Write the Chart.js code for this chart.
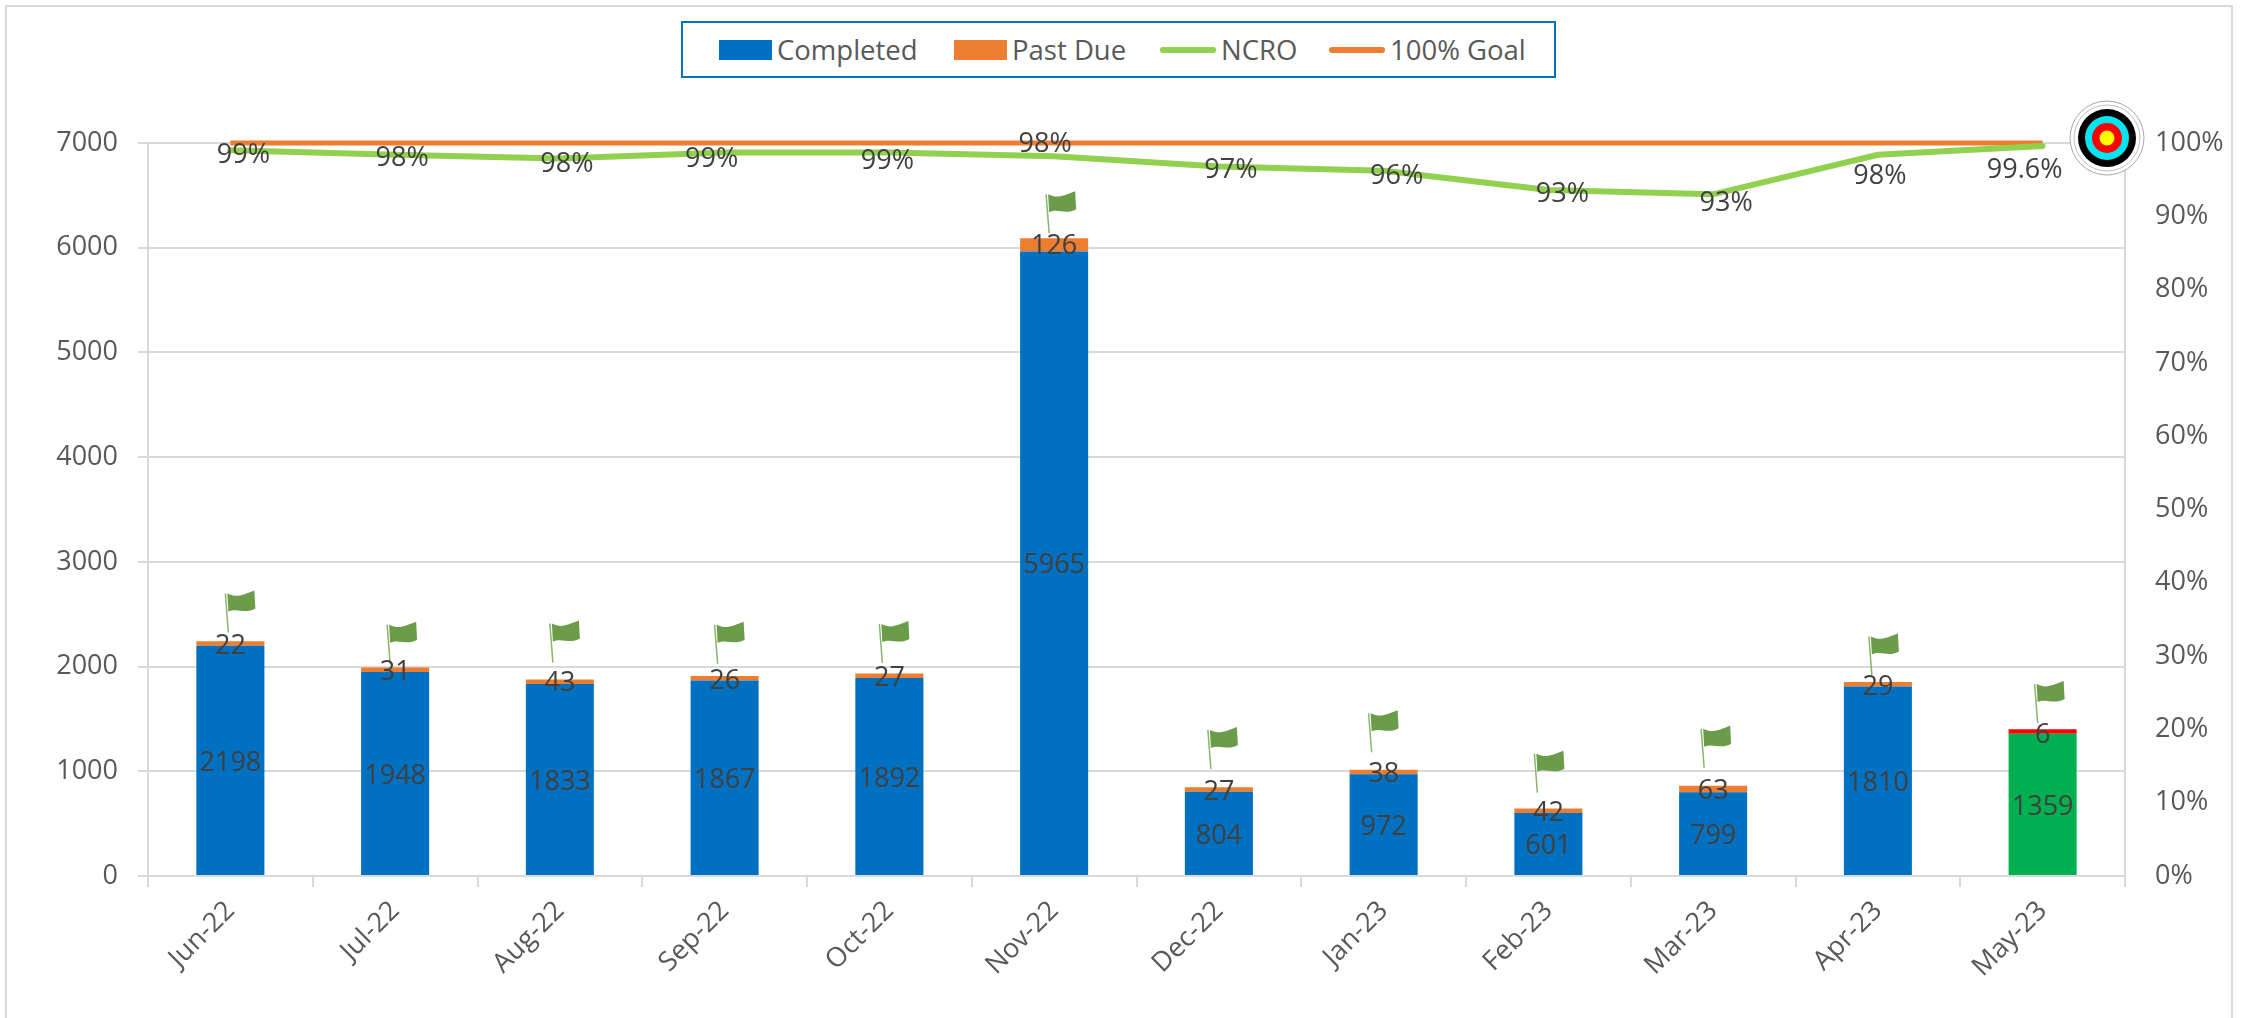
<!DOCTYPE html>
<html>
<head>
<meta charset="utf-8">
<title>NCRO</title>
<script src="https://cdn.jsdelivr.net/npm/chart.js@4"></script>
<style>
    html, body { margin: 0; padding: 0; background: #fff; overflow: hidden; }
    #wrap { position: relative; width: 2252px; height: 1018px; overflow: hidden; font-family: "Open Sans", sans-serif; }
    #frame { position: absolute; left: 5px; top: 5px; width: 2224px; height: 1100px; border: 2px solid #d9d9d9; }
    #legend {
        position: absolute; left: 681px; top: 21px; width: 871px; height: 53px;
        border: 2px solid #0070c0; background: #fff; color: #595959; font-size: 27.5px;
    }
    #legend .item { position: absolute; top: 0; height: 53px; display: flex; align-items: center; white-space: nowrap; }
    #legend .swatch { display: block; margin-right: 5px; }
    canvas { position: absolute; left: 0; top: 0; }
</style>
</head>
<body>
<div id="wrap">
    <div id="frame"></div>
    <canvas id="ncroChart" width="2252" height="1018"></canvas>
    <div id="legend"></div>
</div>
<script>
const months = ['Jun-22', 'Jul-22', 'Aug-22', 'Sep-22', 'Oct-22', 'Nov-22', 'Dec-22', 'Jan-23', 'Feb-23', 'Mar-23', 'Apr-23', 'May-23'];
const completed = [2198, 1948, 1833, 1867, 1892, 5965, 804, 972, 601, 799, 1810, 1359];
const pastDue = [22, 31, 43, 26, 27, 126, 27, 38, 42, 63, 29, 6];
const ncro = [99.0, 98.4, 97.9, 98.7, 98.7, 98.2, 96.8, 96.2, 93.6, 93.0, 98.4, 99.6];
const goal = [100, 100, 100, 100, 100, 100, 100, 100, 100, 100, 100, 100];
const ncroLabels = ['99%', '98%', '98%', '99%', '99%', '98%', '97%', '96%', '93%', '93%', '98%', '99.6%'];

// label placement next to the line, and flags above the bars (px)
const ncroLabelDx = [13, 7, 7, -13, -2, -9, 12, 13, 14, 13, 2, -18];
const ncroLabelDy = [3, 2, 4, 5, 7, -14, 2, 3, 2, 7, 20, 22];
const flagGap = [11, 5, 17, 14, 12, 5, 20, 18, 16, 18, 8, 10];
const flagDx = [-2, -5, -7, -7, -7, -5, -8, -12, -11, -9, -6, -5];

const BLUE = '#0070c0';
const ORANGE = '#ed7d31';
const LIME = '#92d050';
const AXIS = '#d9d9d9';
const TICK_TEXT = '#595959';
const LABEL_TEXT = '#404040';
const FONT = '"Open Sans", sans-serif';

// last month is highlighted
const completedColors = months.map((m, i) => i === months.length - 1 ? '#00b050' : BLUE);
const pastDueColors = months.map((m, i) => i === months.length - 1 ? '#ff0000' : ORANGE);

function drawFlag(ctx, x, y) {
    const topX = x - 3;
    const topY = y - 39;
    ctx.strokeStyle = '#8ab56d';
    ctx.lineWidth = 1.5;
    ctx.beginPath();
    ctx.moveTo(x, y);
    ctx.lineTo(topX, topY);
    ctx.stroke();

    ctx.fillStyle = '#6a9c4a';
    ctx.beginPath();
    ctx.moveTo(topX + 2, topY);
    ctx.bezierCurveTo(topX + 12, topY + 5, topX + 18, topY + 1, topX + 29, topY - 3);
    ctx.lineTo(topX + 30, topY + 15);
    ctx.bezierCurveTo(topX + 20, topY + 21, topX + 12, topY + 14, topX + 3, topY + 18);
    ctx.closePath();
    ctx.fill();
}

function drawTarget(ctx, x, y) {
    const rings = [[37, '#ffffff', '#a6a6a6'], [33, '#ffffff', '#bfbfbf'], [29, '#000000'], [22, '#00e5f0'], [15, '#ff0000'], [7.5, '#ffff00']];
    rings.forEach(r => {
        ctx.beginPath();
        ctx.arc(x, y, r[0], 0, Math.PI * 2);
        ctx.fillStyle = r[1];
        ctx.fill();
        if (r[2]) {
            ctx.strokeStyle = r[2];
            ctx.lineWidth = 1;
            ctx.stroke();
        }
    });
}

// data labels, flags and the target, Chart.js has none of these built in
const extrasPlugin = {
    id: 'extras',
    afterDatasetsDraw(chart) {
        const ctx = chart.ctx;
        const x = chart.scales.x;
        const y = chart.scales.y;
        const y1 = chart.scales.y1;

        ctx.save();
        months.forEach((m, i) => {
            const cx = x.getPixelForValue(i);
            const top = y.getPixelForValue(completed[i] + pastDue[i]);
            drawFlag(ctx, cx + flagDx[i], top - flagGap[i]);
        });

        drawTarget(ctx, chart.chartArea.right - 18, chart.chartArea.top - 5);

        ctx.font = '27px ' + FONT;
        ctx.fillStyle = LABEL_TEXT;
        ctx.textAlign = 'center';
        ctx.textBaseline = 'middle';
        months.forEach((m, i) => {
            const cx = x.getPixelForValue(i);
            // +2 so the digits sit on the centre, Open Sans rides high
            ctx.fillText(completed[i], cx, y.getPixelForValue(completed[i] / 2) + 2);
            ctx.fillText(pastDue[i], cx, y.getPixelForValue(completed[i] + pastDue[i] / 2) + 2);
            ctx.fillText(ncroLabels[i], cx + ncroLabelDx[i], y1.getPixelForValue(ncro[i]) + ncroLabelDy[i] + 2);
        });
        ctx.restore();
    }
};

const tickFont = { family: FONT, size: 27 };

const chart = new Chart(document.getElementById('ncroChart'), {
    type: 'bar',
    data: {
        labels: months,
        datasets: [
            // stacking follows "order", so Completed has to come first
            { label: 'Completed', data: completed, yAxisID: 'y', backgroundColor: completedColors, stack: 'a', categoryPercentage: 1, barPercentage: 0.413, order: 2 },
            { label: 'Past Due', data: pastDue, yAxisID: 'y', backgroundColor: pastDueColors, stack: 'a', categoryPercentage: 1, barPercentage: 0.413, minBarLength: 4.5, order: 3 },
            { type: 'line', label: 'NCRO', data: ncro, yAxisID: 'y1', borderColor: LIME, borderWidth: 6, pointRadius: 0, tension: 0, borderCapStyle: 'round', clip: false, order: 0 },
            { type: 'line', label: '100% Goal', data: goal, yAxisID: 'y1', borderColor: ORANGE, borderWidth: 5, pointRadius: 0, tension: 0, clip: false, order: 1 }
        ]
    },
    options: {
        responsive: false,
        animation: false,
        layout: { padding: { top: 143, left: 0, right: 0, bottom: 0 } },
        plugins: {
            legend: { display: false },
            title: { display: false },
            tooltip: { enabled: false }
        },
        scales: {
            x: {
                stacked: true,
                offset: true,
                grid: { display: true, drawOnChartArea: false, drawTicks: true, tickLength: 11, color: AXIS, lineWidth: 2, offset: true },
                border: { color: AXIS, width: 2 },
                ticks: { color: TICK_TEXT, font: tickFont, minRotation: 45, maxRotation: 45, padding: 8, autoSkip: false },
                afterFit(scale) { scale.height = 142; }
            },
            y: {
                stacked: true,
                min: 0,
                max: 7000,
                grid: { color: AXIS, lineWidth: 2, tickLength: 10 },
                border: { color: AXIS, width: 2 },
                ticks: { stepSize: 1000, color: TICK_TEXT, font: tickFont, padding: 20, callback: v => String(v) },
                afterFit(scale) { scale.width = 148; }
            },
            y1: {
                position: 'right',
                min: 0,
                max: 100,
                grid: { drawOnChartArea: false, drawTicks: false },
                border: { color: AXIS, width: 2 },
                ticks: { stepSize: 10, color: TICK_TEXT, font: tickFont, padding: 30, callback: v => v + '%' },
                afterFit(scale) { scale.width = 127; }
            }
        }
    },
    plugins: [extrasPlugin]
});

// legend box, built from the datasets
const legendItems = [
    { name: 'Completed', left: 36, color: BLUE, line: false },
    { name: 'Past Due', left: 271, color: ORANGE, line: false },
    { name: 'NCRO', left: 477, color: LIME, line: true },
    { name: '100% Goal', left: 646, color: ORANGE, line: true }
];
const legend = document.getElementById('legend');
legendItems.forEach(it => {
    const item = document.createElement('div');
    item.className = 'item';
    item.style.left = it.left + 'px';
    const swatch = document.createElement('span');
    swatch.className = 'swatch';
    swatch.style.background = it.color;
    swatch.style.width = it.line ? '56px' : '53px';
    swatch.style.height = it.line ? '6px' : '20px';
    if (it.line) swatch.style.borderRadius = '3px';
    const text = document.createElement('span');
    text.textContent = it.name;
    item.appendChild(swatch);
    item.appendChild(text);
    legend.appendChild(item);
});
</script>
</body>
</html>
